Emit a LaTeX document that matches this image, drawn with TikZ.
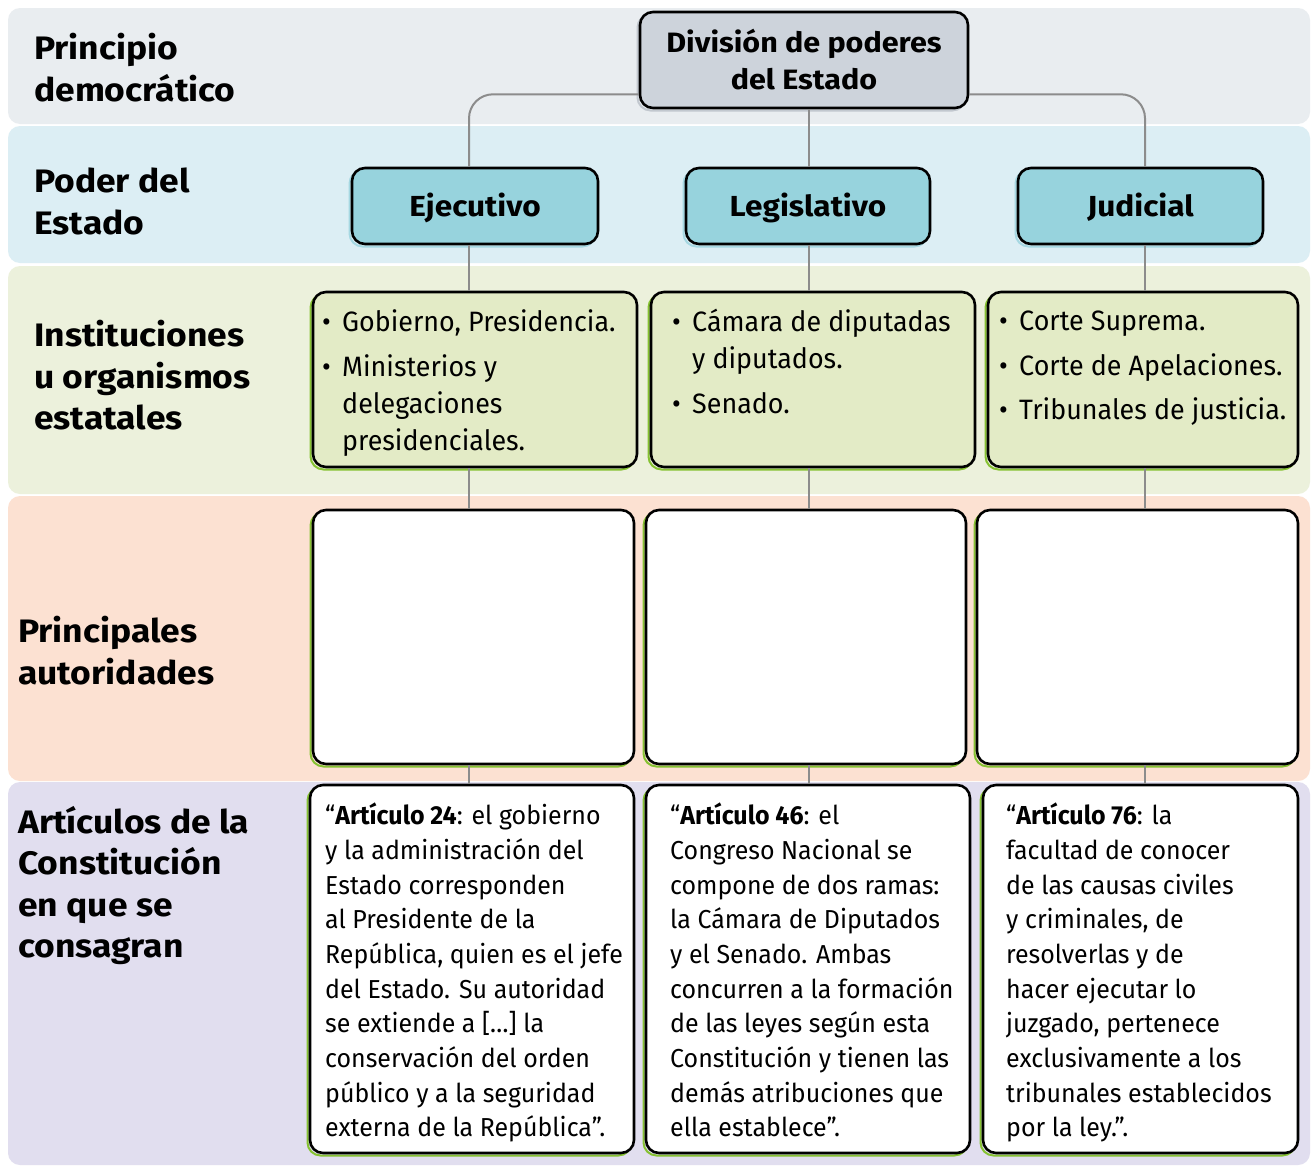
\documentclass[tikz,border=0pt]{standalone}
\usepackage{fontspec}
\setmainfont{Fira Sans}
\newfontfamily\bodyfont[FakeStretch=0.96]{Fira Sans}
\newfontfamily\headfont[FakeStretch=1.09]{Fira Sans}
\definecolor{bandA}{HTML}{E9EDF0}
\definecolor{bandB}{HTML}{DCEEF4}
\definecolor{bandC}{HTML}{ECF1DC}
\definecolor{bandD}{HTML}{FCE1D2}
\definecolor{bandE}{HTML}{E1DEEF}
\definecolor{topfill}{HTML}{CDD3DB}
\definecolor{bluefill}{HTML}{97D3DD}
\definecolor{greenfill}{HTML}{E3EBC6}
\definecolor{lineg}{HTML}{8C8C8C}
\definecolor{greenedge}{HTML}{86C232}
\definecolor{blueshade}{HTML}{A6D8E2}
\definecolor{greyshade}{HTML}{C2C8CF}
\newcommand{\bitem}{\makebox[20pt][l]{•}}
\newcommand{\bcont}{\hspace*{20pt}}
\begin{document}
\begin{tikzpicture}[x=1pt,y=-1pt,
  conn/.style={draw=lineg, line width=2pt, rounded corners=24pt},
  hbox/.style={draw=black, line width=2.6pt, rounded corners=13pt, inner sep=0pt},
  shad/.style={preaction={draw=#1, line width=2pt, transform canvas={shift={(-2.5pt,-2.5pt)}}}},
  lab/.style={anchor=north west, inner sep=0pt, align=left, font=\headfont\bfseries\fontsize{32.5}{41.5}\selectfont},
  head/.style={font=\headfont\bfseries\fontsize{29}{37}\selectfont, align=center},
  power/.style={hbox, shad=blueshade, fill=bluefill, minimum height=76pt, head, text height=22pt, text depth=1pt},
  greentxt/.style={anchor=north west, inner sep=0pt, align=left, font=\bodyfont\fontsize{28}{37}\selectfont},
  arttxt/.style={anchor=north west, inner sep=0pt, align=left, font=\bodyfont\fontsize{26}{34.67}\selectfont}
]
\useasboundingbox (0,0) rectangle (1312,1167);
\fill[white] (0,0) rectangle (1312,1167);
% bands
\fill[bandA, rounded corners=12pt] (8,8) rectangle (1310,124);
\fill[bandB, rounded corners=12pt] (8,126) rectangle (1310,263);
\fill[bandC, rounded corners=12pt] (8,266) rectangle (1310,494);
\fill[bandD, rounded corners=12pt] (8,496) rectangle (1310,781);
\fill[bandE, rounded corners=12pt] (8,782) rectangle (1310,1165);

\coordinate (colA) at (469,0);
\coordinate (colB) at (809,0);
\coordinate (colC) at (1145,0);

% row labels
\node[lab] (l1) at (34,33) {Principio\\democrático};
\node[lab] (l2) at (34,168) {Poder del\\Estado};
\node[lab] (l3) at (34,320) {Instituciones\\u organismos\\estatales};
\node[lab] (l4) at (18,616) {Principales\\autoridades};
\node[lab] (l5) at (18,806) {Artículos de la\\Constitución\\en que se\\consagran};

% top node
\node[hbox, shad=greyshade, fill=topfill, minimum width=328pt, minimum height=96pt, head, font=\headfont\bfseries\fontsize{28}{37}\selectfont] (top) at (804,60) {División de poderes\\del Estado};

% powers
\node[power, minimum width=246pt] (eje) at (475,206) {Ejecutivo};
\node[power, minimum width=244pt] (leg) at (808,206) {Legislativo};
\node[power, minimum width=245pt] (jud) at (1140.5,206) {Judicial};

% institutions
\node[hbox, shad=greenedge, fill=greenfill, minimum width=324pt, minimum height=175pt] (ins1) at (475,379.5) {};
\node[hbox, shad=greenedge, fill=greenfill, minimum width=324pt, minimum height=175pt] (ins2) at (813,379.5) {};
\node[hbox, shad=greenedge, fill=greenfill, minimum width=310pt, minimum height=175pt] (ins3) at (1143,379.5) {};

\node[greentxt] (tins1) at (322,309) {\bitem Gobierno, Presidencia.\\[8pt]\bitem Ministerios y\\\bcont delegaciones\\\bcont presidenciales.};
\node[greentxt] (tins2) at (672,309) {\bitem Cámara de diputadas\\\bcont y diputados.\\[8pt]\bitem Senado.};
\node[greentxt] (tins3) at (999,311) {\bitem Corte Suprema.\\[7.5pt]\bitem Corte de Apelaciones.\\[7.5pt]\bitem Tribunales de justicia.};

% authorities
\node[hbox, shad=greenedge, fill=white, minimum width=321pt, minimum height=254pt] (aut1) at (473.5,637) {};
\node[hbox, shad=greenedge, fill=white, minimum width=320pt, minimum height=254pt] (aut2) at (806,637) {};
\node[hbox, shad=greenedge, fill=white, minimum width=321pt, minimum height=254pt] (aut3) at (1137.5,637) {};

% articles
\node[hbox, shad=greenedge, fill=white, minimum width=324pt, minimum height=368pt] (art1) at (472,969) {};
\node[hbox, shad=greenedge, fill=white, minimum width=324pt, minimum height=368pt] (art2) at (808,969) {};
\node[hbox, shad=greenedge, fill=white, minimum width=315pt, minimum height=368pt] (art3) at (1140.5,969) {};

\node[arttxt] (tart1) at (325,803) {“\textbf{Artículo 24}: el gobierno\\y la administración del\\Estado corresponden\\al Presidente de la\\República, quien es el jefe\\del Estado. Su autoridad\\se extiende a […] la\\conservación del orden\\público y a la seguridad\\externa de la República”.};
\node[arttxt] (tart2) at (670,803) {“\textbf{Artículo 46}: el\\Congreso Nacional se\\compone de dos ramas:\\la Cámara de Diputados\\y el Senado. Ambas\\concurren a la formación\\de las leyes según esta\\Constitución y tienen las\\demás atribuciones que\\ella establece”.};
\node[arttxt] (tart3) at (1006,803) {“\textbf{Artículo 76}: la\\facultad de conocer\\de las causas civiles\\y criminales, de\\resolverlas y de\\hacer ejecutar lo\\juzgado, pertenece\\exclusivamente a los\\tribunales establecidos\\por la ley.”.};

% connectors
\draw[conn] ([yshift=15pt]top.south west) -| (eje.north -| colA);
\draw[conn] ([yshift=15pt]top.south east) -| (jud.north -| colC);
\draw[conn] (top.south -| colB) -- (leg.north -| colB);
\foreach \c/\a/\b/\d/\e in {colA/eje/ins1/aut1/art1, colB/leg/ins2/aut2/art2, colC/jud/ins3/aut3/art3}{
  \draw[conn] (\a.south -| \c) -- (\b.north -| \c);
  \draw[conn] (\b.south -| \c) -- (\d.north -| \c);
  \draw[conn] (\d.south -| \c) -- (\e.north -| \c);
}
\end{tikzpicture}
\end{document}
